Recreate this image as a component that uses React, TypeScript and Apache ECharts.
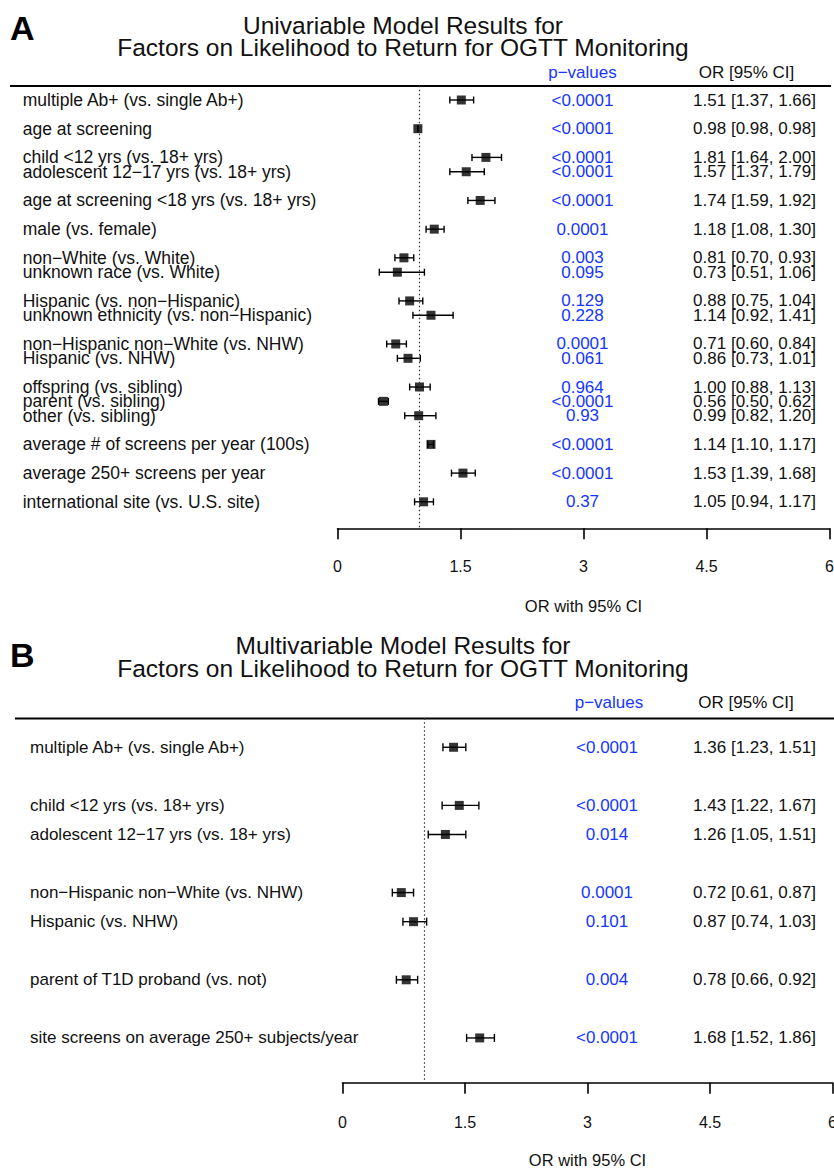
import React, { useEffect, useRef } from "react";
import * as echarts from "echarts";

const FONT = "'Liberation Sans', Arial, Helvetica, sans-serif";
const PBLUE = "#1536ff";
const INK = "#111";

// ---------- Panel A: univariable ----------
const titleA = ["Univariable Model Results for", "Factors on Likelihood to Return for OGTT Monitoring"];
const labelsA = [
  "multiple Ab+ (vs. single Ab+)",
  "age at screening",
  "child <12 yrs (vs. 18+ yrs)",
  "adolescent 12\u221217 yrs (vs. 18+ yrs)",
  "age at screening <18 yrs (vs. 18+ yrs)",
  "male (vs. female)",
  "non\u2212White (vs. White)",
  "unknown race (vs. White)",
  "Hispanic (vs. non\u2212Hispanic)",
  "unknown ethnicity (vs. non\u2212Hispanic)",
  "non\u2212Hispanic non\u2212White (vs. NHW)",
  "Hispanic (vs. NHW)",
  "offspring (vs. sibling)",
  "parent (vs. sibling)",
  "other (vs. sibling)",
  "average # of screens per year (100s)",
  "average 250+ screens per year",
  "international site (vs. U.S. site)",
];
const groupsA = [1, 2, 3, 3, 4, 5, 6, 6, 7, 7, 8, 8, 9, 9, 9, 10, 11, 12];
const orA = [1.51, 0.98, 1.81, 1.57, 1.74, 1.18, 0.81, 0.73, 0.88, 1.14, 0.71, 0.86, 1.0, 0.56, 0.99, 1.14, 1.53, 1.05];
const lowA = [1.37, 0.98, 1.64, 1.37, 1.59, 1.08, 0.7, 0.51, 0.75, 0.92, 0.6, 0.73, 0.88, 0.5, 0.82, 1.1, 1.39, 0.94];
const highA = [1.66, 0.98, 2.0, 1.79, 1.92, 1.3, 0.93, 1.06, 1.04, 1.41, 0.84, 1.01, 1.13, 0.62, 1.2, 1.17, 1.68, 1.17];
const pA = [
  "<0.0001", "<0.0001", "<0.0001", "<0.0001", "<0.0001", "0.0001", "0.003", "0.095", "0.129",
  "0.228", "0.0001", "0.061", "0.964", "<0.0001", "0.93", "<0.0001", "<0.0001", "0.37",
];

// ---------- Panel B: multivariable ----------
const titleB = ["Multivariable Model Results for", "Factors on Likelihood to Return for OGTT Monitoring"];
const labelsB = [
  "multiple Ab+ (vs. single Ab+)",
  "child <12 yrs (vs. 18+ yrs)",
  "adolescent 12\u221217 yrs (vs. 18+ yrs)",
  "non\u2212Hispanic non\u2212White (vs. NHW)",
  "Hispanic (vs. NHW)",
  "parent of T1D proband (vs. not)",
  "site screens on average 250+ subjects/year",
];
const groupsB = [1, 2, 2, 3, 3, 4, 5];
const orB = [1.36, 1.43, 1.26, 0.72, 0.87, 0.78, 1.68];
const lowB = [1.23, 1.22, 1.05, 0.61, 0.74, 0.66, 1.52];
const highB = [1.51, 1.67, 1.51, 0.87, 1.03, 0.92, 1.86];
const pB = ["<0.0001", "<0.0001", "0.014", "0.0001", "0.101", "0.004", "<0.0001"];

// axis ticks
const xMin = 0;
const xMax = 6;
const xStep = 1.5;
const refOR = 1;
const axisName = "OR with 95% CI";
const headerP = "p\u2212values";
const headerOR = "OR [95% CI]";

// ---------- layout (pixels) ----------
const W = 834;
const H = 1169;
const layoutA = {
  letter: "A", letterY: 27.5, titleY: [25, 47.5], titleX: 403,
  headerY: 72, headerPX: 582.5, headerORX: 746.5,
  ruleY: 86, ruleX: [10, 831],
  left: 337.5, right: 829.5, top: 85.65, height: 442.7, ymax: 29.85,
  labelX: 22.7, pX: 582.5, orRight: 816, fsLabel: 17.5, fsCol: 17,
  sym: 9, cap: 3.5, tickMargin: 30,
};
const layoutB = {
  letter: "B", letterY: 655, titleY: [645, 668], titleX: 403,
  headerY: 702, headerPX: 609, headerORX: 746,
  ruleY: 718.5, ruleX: [15, 834],
  left: 342.5, right: 832.5, top: 718.2, height: 364.5, ymax: 11.54,
  labelX: 30, pX: 607, orRight: 816, fsLabel: 17, fsCol: 17,
  sym: 9, cap: 4, tickMargin: 32,
};

const fmt2 = (v: number) => v.toFixed(2);

function buildPanel(
  idx: number,
  L: typeof layoutA,
  title: string[],
  labels: string[],
  groups: number[],
  or: number[],
  low: number[],
  high: number[],
  p: string[]
) {
  const slots = groups.map((g, i) => i + g - 1);
  const orText = or.map((o, i) => `${fmt2(o)} [${fmt2(low[i])}, ${fmt2(high[i])}]`);
  const mapOf = (texts: string[]) => {
    const m: Record<number, string> = {};
    slots.forEach((s, i) => (m[s] = texts[i]));
    return m;
  };
  const pick = (m: Record<number, string>) => (v: number) => {
    const r = Math.round(v);
    return Math.abs(v - r) < 1e-6 && m[r] != null ? m[r] : "";
  };

  const grid = {
    left: L.left,
    width: L.right - L.left,
    top: L.top,
    height: L.height,
    containLabel: false,
    outerBoundsMode: "none",
  };

  const yBase = {
    type: "value",
    gridIndex: idx,
    inverse: true,
    min: -1,
    max: L.ymax,
    interval: 1,
    axisLine: { show: false, onZero: false },
    axisTick: { show: false },
    splitLine: { show: false },
  };

  const yAxes = [
    {
      ...yBase,
      position: "left",
      axisLabel: {
        formatter: pick(mapOf(labels)),
        align: "left",
        margin: L.left - L.labelX,
        fontSize: L.fsLabel,
        color: INK,
        fontFamily: FONT,
      },
    },
    {
      ...yBase,
      position: "left",
      offset: L.left - L.pX,
      axisLabel: {
        formatter: pick(mapOf(p)),
        align: "center",
        margin: 0,
        fontSize: L.fsCol,
        color: PBLUE,
        fontFamily: FONT,
      },
    },
    {
      ...yBase,
      position: "right",
      offset: L.orRight - L.right,
      axisLabel: {
        formatter: pick(mapOf(orText)),
        align: "right",
        margin: 0,
        fontSize: L.fsCol,
        color: INK,
        fontFamily: FONT,
      },
    },
  ];

  const xAxis = {
    type: "value",
    gridIndex: idx,
    position: "bottom",
    min: xMin,
    max: xMax,
    interval: xStep,
    axisLine: { onZero: false, lineStyle: { color: "#000", width: 1.6 } },
    axisTick: { length: 11, lineStyle: { color: "#000", width: 1.6 } },
    splitLine: { show: false },
    axisLabel: {
      margin: L.tickMargin,
      fontSize: 16,
      color: INK,
      fontFamily: FONT,
      showMinLabel: true,
      showMaxLabel: true,
    },
    name: axisName,
    nameLocation: "middle",
    nameGap: 69,
    nameTextStyle: { fontSize: 16.5, color: INK, fontFamily: FONT },
  };

  const cap = L.cap;
  const series = [
    {
      type: "custom",
      xAxisIndex: idx,
      yAxisIndex: idx * 3,
      data: low.map((l, i) => [l, high[i], slots[i]]),
      encode: { x: [0, 1], y: 2 },
      z: 2,
      silent: true,
      renderItem: (_params: any, api: any) => {
        const y = api.value(2);
        const a = api.coord([api.value(0), y]);
        const b = api.coord([api.value(1), y]);
        const style = { stroke: "#000", lineWidth: 1.4 };
        return {
          type: "group",
          children: [
            { type: "line", shape: { x1: a[0], y1: a[1], x2: b[0], y2: b[1] }, style },
            { type: "line", shape: { x1: a[0], y1: a[1] - cap, x2: a[0], y2: a[1] + cap }, style },
            { type: "line", shape: { x1: b[0], y1: b[1] - cap, x2: b[0], y2: b[1] + cap }, style },
          ],
        };
      },
    },
    {
      type: "scatter",
      xAxisIndex: idx,
      yAxisIndex: idx * 3,
      data: or.map((o, i) => [o, slots[i]]),
      symbol: "rect",
      symbolSize: L.sym,
      itemStyle: { color: "#000" },
      z: 3,
      silent: true,
      markLine: {
        silent: true,
        symbol: ["none", "none"],
        label: { show: false },
        lineStyle: { type: [1.5, 2.5], color: "#333", width: 1.2 },
        data: [{ xAxis: refOR }],
      },
    },
  ];

  const graphics = [
    {
      type: "text",
      x: 10,
      y: L.letterY,
      style: {
        text: L.letter,
        font: `bold 34px ${FONT}`,
        fill: "#000",
        align: "left",
        verticalAlign: "middle",
        textAlign: "left",
        textVerticalAlign: "middle",
      },
    },
    ...title.map((t, i) => ({
      type: "text",
      x: L.titleX,
      y: L.titleY[i],
      style: {
        text: t,
        font: `24.5px ${FONT}`,
        fill: INK,
        align: "center",
        verticalAlign: "middle",
        textAlign: "center",
        textVerticalAlign: "middle",
      },
    })),
    {
      type: "text",
      x: L.headerPX,
      y: L.headerY,
      style: {
        text: headerP,
        font: `17px ${FONT}`,
        fill: PBLUE,
        align: "center",
        verticalAlign: "middle",
        textAlign: "center",
        textVerticalAlign: "middle",
      },
    },
    {
      type: "text",
      x: L.headerORX,
      y: L.headerY,
      style: {
        text: headerOR,
        font: `17px ${FONT}`,
        fill: INK,
        align: "center",
        verticalAlign: "middle",
        textAlign: "center",
        textVerticalAlign: "middle",
      },
    },
    {
      type: "line",
      shape: { x1: L.ruleX[0], y1: L.ruleY, x2: L.ruleX[1], y2: L.ruleY },
      style: { stroke: "#000", lineWidth: 2 },
    },
  ];

  return { grid, xAxis, yAxes, series, graphics };
}

const panelA = buildPanel(0, layoutA, titleA, labelsA, groupsA, orA, lowA, highA, pA);
const panelB = buildPanel(1, layoutB, titleB, labelsB, groupsB, orB, lowB, highB, pB);

const option: any = {
  animation: false,
  backgroundColor: "#fff",
  textStyle: { fontFamily: FONT },
  grid: [panelA.grid, panelB.grid],
  xAxis: [panelA.xAxis, panelB.xAxis],
  yAxis: [...panelA.yAxes, ...panelB.yAxes],
  series: [...panelA.series, ...panelB.series],
  graphic: [...panelA.graphics, ...panelB.graphics],
};

export default function App() {
  const ref = useRef<HTMLDivElement>(null);
  useEffect(() => {
    if (!ref.current) return;
    const chart = echarts.init(ref.current, null, { renderer: "svg" });
    chart.setOption(option);
    return () => chart.dispose();
  }, []);
  return (
    <div
      ref={ref}
      style={{ position: "absolute", left: 0, top: 0, width: W, height: H, background: "#fff" }}
    />
  );
}
